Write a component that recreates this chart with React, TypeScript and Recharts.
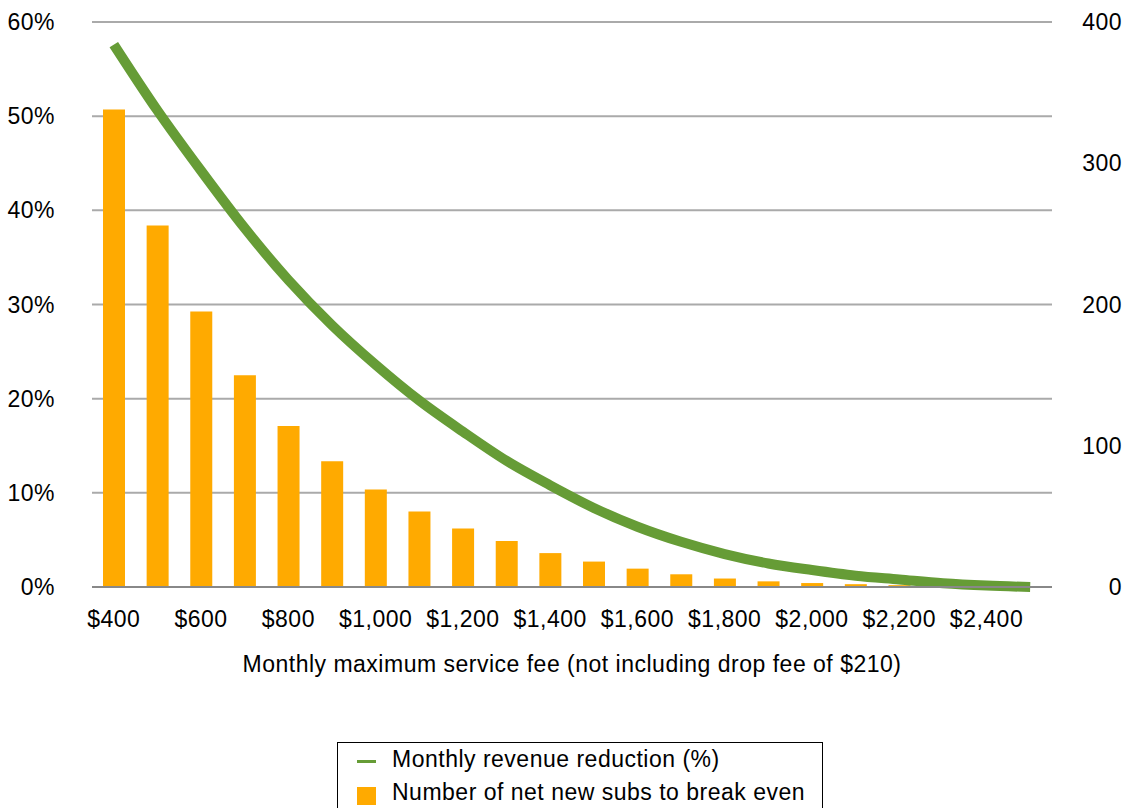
import React from 'react';
import { ComposedChart, Bar, Line, XAxis, YAxis, CartesianGrid, Legend } from 'recharts';

const FONT = '"Liberation Sans", Arial, Helvetica, sans-serif';
const FS = 23;
const LS = 0.5;

const categories = [
  '$400', '$500', '$600', '$700', '$800', '$900', '$1,000', '$1,100', '$1,200', '$1,300', '$1,400',
  '$1,500', '$1,600', '$1,700', '$1,800', '$1,900', '$2,000', '$2,100', '$2,200', '$2,300', '$2,400', '$2,500',
];
const subsToBreakEven = [338, 256, 195, 150, 114, 89, 69, 53.5, 41.5, 32.5, 24, 18, 13, 9, 6, 4, 2.8, 2, 1.3, 0.8, 0.5, 0.3];
const revenueReduction = [57.6, 50.6, 44.2, 38.1, 32.6, 27.8, 23.6, 19.8, 16.5, 13.4, 10.8, 8.4, 6.4, 4.8, 3.5, 2.5, 1.8, 1.2, 0.8, 0.4, 0.15, 0.0];
const leftTicks = [0, 10, 20, 30, 40, 50, 60];
const rightTicks = [0, 100, 200, 300, 400];

const lineName = 'Monthly revenue reduction (%)';
const barName = 'Number of net new subs to break even';
const xTitle = 'Monthly maximum service fee (not including drop fee of $210)';

const GREEN = '#669C36';
const ORANGE = '#FFAA00';

const data = categories.map((fee, i) => ({
  fee,
  subs: subsToBreakEven[i],
  reduction: revenueReduction[i],
}));

const RightTick = (props: any) => {
  const { x, y, payload } = props;
  return (
    <text x={x + 70} y={y} dy="0.355em" textAnchor="end" fontSize={FS} letterSpacing={LS} fontFamily={FONT} fill="#000">
      {payload.value}
    </text>
  );
};

const renderLegend = () => (
  <div
    style={{
      boxSizing: 'border-box',
      width: 486,
      height: 72,
      border: '1px solid #000',
      background: '#fff',
      fontFamily: FONT,
      fontSize: FS,
      letterSpacing: LS,
      lineHeight: '23px',
      color: '#000',
      position: 'relative',
    }}
  >
    <div style={{ position: 'absolute', left: 19, top: 16.5, width: 19, height: 3, background: GREEN }} />
    <div style={{ position: 'absolute', left: 54, top: 4.6, whiteSpace: 'nowrap' }}>{lineName}</div>
    <div style={{ position: 'absolute', left: 19, top: 43.5, width: 19, height: 18, background: ORANGE }} />
    <div style={{ position: 'absolute', left: 54, top: 37.6, whiteSpace: 'nowrap' }}>{barName}</div>
  </div>
);

export default function App() {
  return (
    <div style={{ position: 'absolute', left: 0, top: 0, background: '#fff' }}>
      <ComposedChart
        width={1131}
        height={808}
        data={data}
        margin={{ top: 22, right: 19, left: 32, bottom: 121 }}
      >
        <CartesianGrid vertical={false} stroke="#aaaaaa" strokeWidth={2} yAxisId="left" />
        <XAxis
          dataKey="fee"
          interval={1}
          height={100}
          tickLine={false}
          tickSize={0}
          tickMargin={24}
          axisLine={{ stroke: '#888888', strokeWidth: 2 }}
          tick={{ fill: '#000', fontSize: FS, fontFamily: FONT, letterSpacing: LS }}
          label={{ value: xTitle, position: 'insideBottom', offset: 15, fill: '#000', fontSize: FS, fontFamily: FONT, letterSpacing: LS }}
        />
        <YAxis
          yAxisId="left"
          orientation="left"
          domain={[0, 60]}
          ticks={leftTicks}
          tickFormatter={(v: number) => `${v}%`}
          width={60}
          axisLine={false}
          tickLine={false}
          tickSize={0}
          tickMargin={37}
          tick={{ fill: '#000', fontSize: FS, fontFamily: FONT, letterSpacing: LS }}
        />
        <YAxis
          yAxisId="right"
          orientation="right"
          domain={[0, 400]}
          ticks={rightTicks}
          width={60}
          axisLine={false}
          tickLine={false}
          tickSize={0}
          tickMargin={0}
          tick={<RightTick />}
        />
        <Legend
          layout="horizontal"
          verticalAlign="middle"
          align="center"
          content={renderLegend}
          wrapperStyle={{ left: 337, top: 742, width: 486, height: 72 }}
        />
        <Bar yAxisId="right" dataKey="subs" name={barName} fill={ORANGE} barSize={22} isAnimationActive={false} />
        <Line
          yAxisId="left"
          dataKey="reduction"
          name={lineName}
          type="monotone"
          stroke={GREEN}
          strokeWidth={10}
          dot={false}
          activeDot={false}
          isAnimationActive={false}
        />
      </ComposedChart>
    </div>
  );
}
